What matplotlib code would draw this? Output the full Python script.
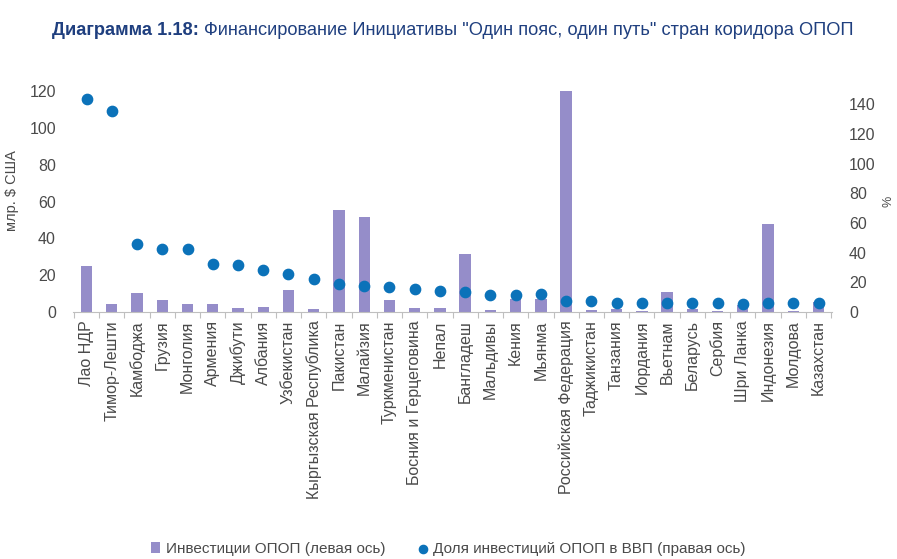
import matplotlib.pyplot as plt
import numpy as np

# %%
# Data
countries = ['Лао НДР', 'Тимор-Лешти', 'Камбоджа', 'Грузия', 'Монголия',
             'Армения', 'Джибути', 'Албания', 'Узбекистан',
             'Кыргызская Республика', 'Пакистан', 'Малайзия', 'Туркменистан',
             'Босния и Герцеговина', 'Непал', 'Бангладеш', 'Мальдивы', 'Кения',
             'Мьянма', 'Российская Федерация', 'Таджикистан', 'Танзания',
             'Иордания', 'Вьетнам', 'Беларусь', 'Сербия', 'Шри Ланка',
             'Индонезия', 'Молдова', 'Казахстан']
invest = [25, 4.2, 10.4, 6.4, 4.2, 4.2, 2, 2.7, 11.9, 1.8, 55.3, 51.7, 6.4,
          2.4, 2.4, 31.6, 1, 6.9, 6.9, 120, 1, 1.5, 0.5, 11, 1.5, 0.5, 3.6,
          47.8, 0.5, 5.5]
share_gdp = [143.6, 135.7, 45.5, 42.2, 42.2, 32.5, 31.4, 28, 25.3, 22, 18.6,
             17.3, 16.8, 15.3, 13.9, 13.5, 11.7, 11.7, 12, 7.2, 7.2, 6, 6, 6,
             6, 6, 5.6, 6, 6, 6]
left_ticks = [0, 20, 40, 60, 80, 100, 120]
right_ticks = [0, 20, 40, 60, 80, 100, 120, 140]

plt.rcParams['font.family'] = ['Liberation Sans', 'DejaVu Sans']

bar_color = '#958dc9'
dot_color = '#0b72b9'
txt_color = '#4a4a4a'
title_color = '#1f3f7f'

# %%
fig = plt.figure(figsize=(8.97, 5.59), dpi=100)
ax = fig.add_axes([0.081, 0.442, 0.847, 0.395])
x = np.arange(len(countries))
bars = ax.bar(x, invest, width=0.45, color=bar_color, zorder=2,
              label='Инвестиции ОПОП (левая ось)')
ax.set_xlim(-0.55, len(countries) - 0.45)
ax.set_ylim(0, 120)
ax.set_yticks(left_ticks)
ax.set_xticks(x)
ax.set_xticklabels(countries, rotation=90, fontsize=11.5, color=txt_color)
ax.tick_params(axis='x', length=0, pad=6)
ax.set_xticks(np.arange(len(countries) + 1) - 0.5, minor=True)
ax.tick_params(axis='x', which='minor', length=4, color='#bfbfbf', width=0.8)
ax.tick_params(axis='y', length=0, labelsize=11.5, labelcolor=txt_color, pad=12)
ax.set_ylabel('млр. $ США', fontsize=10.5, color=txt_color)
ax.yaxis.set_label_coords(-0.07, 0.55)
for s in ['top', 'right', 'left']:
    ax.spines[s].set_visible(False)
ax.spines['bottom'].set_color('#bfbfbf')

ax2 = ax.twinx()
dots = ax2.scatter(x, share_gdp, s=55, color=dot_color, zorder=3,
                   label='Доля инвестиций ОПОП в ВВП (правая ось)')
ax2.set_ylim(0, 149)
ax2.set_yticks(right_ticks)
ax2.tick_params(axis='y', length=0, labelsize=11.5, labelcolor=txt_color, pad=12)
ax2.set_ylabel('%', fontsize=9, color=txt_color)
ax2.yaxis.set_label_coords(1.066, 0.5)
for s in ['top', 'right', 'left', 'bottom']:
    ax2.spines[s].set_visible(False)

# Title: bold prefix + regular rest, shrunk to fit between x=52 and x=862
t1 = fig.text(52 / 897, 0.945, 'Диаграмма 1.18: ', fontsize=14,
              fontweight='bold', color=title_color, va='center')
t2 = fig.text(0, 0.945,
              'Финансирование Инициативы "Один пояс, один путь" стран коридора ОПОП',
              fontsize=14, color=title_color, va='center')
fig.canvas.draw()
r = fig.canvas.get_renderer()
w = t1.get_window_extent(r).width + t2.get_window_extent(r).width
fs = 14 * 810 / w
t1.set_fontsize(fs)
t2.set_fontsize(fs)
fig.canvas.draw()
bb = t1.get_window_extent(r)
t2.set_x(bb.x1 / fig.bbox.width)

fig.legend(handles=[bars, dots], loc='center', bbox_to_anchor=(0.5, 0.018),
           ncol=2, frameon=False, fontsize=11, handlelength=0.6,
           handletextpad=0.4, columnspacing=2.1, labelcolor=txt_color,
           markerscale=0.8)

fig.savefig('out.png', dpi=100)
